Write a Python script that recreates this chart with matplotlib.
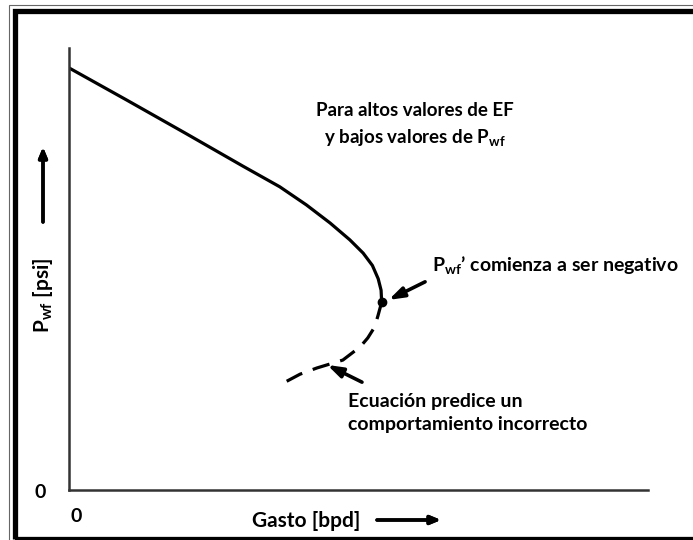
import matplotlib
matplotlib.use('Agg')
import matplotlib.pyplot as plt
from matplotlib.patches import Rectangle

# ------------------------------------------------------------------------------
# DATOS (escala normalizada 0-100)
# ------------------------------------------------------------------------------
gasto_real = [0.0, 10.0, 20.0, 30.0, 36.4, 41.0, 45.1, 48.5, 50.8, 52.4,
              53.4, 53.9, 54.0]
pwf_real = [95.5, 88.2, 80.8, 73.3, 68.6, 64.5, 60.4, 56.6, 53.6, 50.8,
            47.8, 45.2, 42.5]

gasto_pred = [54.0, 53.4, 52.8, 51.6, 50.3, 47.3, 42.8, 39.9, 37.6]
pwf_pred = [42.5, 39.6, 36.9, 34.4, 32.4, 29.4, 27.6, 26.2, 24.6]

texto_ef = 'Para altos valores de EF\ny bajos valores de P$\\mathregular{_{wf}}$'
texto_neg = 'P$\\mathregular{_{wf}}$\u2019 comienza a ser negativo'
texto_ec = 'Ecuación predice un\ncomportamiento incorrecto'
label_x = 'Gasto [bpd]'
label_y = 'P$\\mathregular{_{wf}}$ [psi]'

W, H = 693, 540
plt.rcParams['font.family'] = ['Lato', 'DejaVu Sans']
plt.rcParams['mathtext.fontset'] = 'custom'
plt.rcParams['mathtext.rm'] = 'Lato:bold'


def fx(px):
    return px / W


def fy(py):
    return 1 - py / H


fig = plt.figure(figsize=(W / 100, H / 100), dpi=100)
fig.patch.set_facecolor('white')

# Marco doble (fino exterior + grueso interior)
fig.add_artist(Rectangle((fx(9), fy(600)), fx(800), fy(5) - fy(600),
                         transform=fig.transFigure, fill=False, ec='#666666', lw=0.8))
fig.add_artist(Rectangle((fx(15), fy(539)), fx(800), fy(11) - fy(539),
                         transform=fig.transFigure, fill=False, ec='black', lw=3.8))

ax = fig.add_axes([fx(69), fy(490), fx(648 - 69), fy(48) - fy(490)])
ax.set_xlim(0, 100)
ax.set_ylim(0, 100)
ax.set_facecolor('none')
for s in ['top', 'right']:
    ax.spines[s].set_visible(False)
for s in ['left', 'bottom']:
    ax.spines[s].set_color('#333333')
    ax.spines[s].set_linewidth(1.8)
ax.set_xticks([])
ax.set_yticks([])

ax.plot(gasto_real, pwf_real, color='black', lw=2.3, solid_capstyle='round')
ax.plot(gasto_pred, pwf_pred, color='black', lw=2.3, dashes=(5.5, 3.5))
ax.plot(gasto_real[-1], pwf_real[-1], 'o', color='black', ms=6)

ax.text(59.8, 82.6, texto_ef, ha='center', va='center', fontsize=13.5,
        fontweight='bold', linespacing=1.5)
ax.text(62.7, 51.0, texto_neg, ha='left', va='center', fontsize=14,
        fontweight='bold')
ax.text(48.2, 17.4, texto_ec, ha='left', va='center', fontsize=14,
        fontweight='bold', linespacing=1.45)

flecha = dict(arrowstyle='-|>,head_length=0.9,head_width=0.3', color='black',
              lw=2.6, shrinkA=0, shrinkB=0)
ax.annotate('', xy=(55.2, 43.0), xytext=(61.5, 47.1), arrowprops=flecha)
ax.annotate('', xy=(44.6, 28.3), xytext=(50.6, 24.4), arrowprops=flecha)

# Etiquetas de ejes
fig.text(fx(40), fy(493), '0', ha='center', va='center', fontsize=14, fontweight='bold')
fig.text(fx(76), fy(516), '0', ha='center', va='center', fontsize=14, fontweight='bold')
fig.text(fx(306), fy(521), label_x, ha='center', va='center', fontsize=15, fontweight='bold')
fig.text(fx(43), fy(295), label_y, ha='center', va='center', fontsize=15,
         fontweight='bold', rotation=90)

flecha_eje = dict(arrowstyle='-|>,head_length=0.6,head_width=0.25', color='black',
                  lw=2.5, shrinkA=0, shrinkB=0)
fig.add_artist(plt.annotate('', xy=(fx(441), fy(520)), xytext=(fx(377), fy(520)),
                            xycoords='figure fraction', arrowprops=flecha_eje))
fig.add_artist(plt.annotate('', xy=(fx(43), fy(147)), xytext=(fx(43), fy(222)),
                            xycoords='figure fraction', arrowprops=flecha_eje))

fig.savefig('out.png', dpi=100)
